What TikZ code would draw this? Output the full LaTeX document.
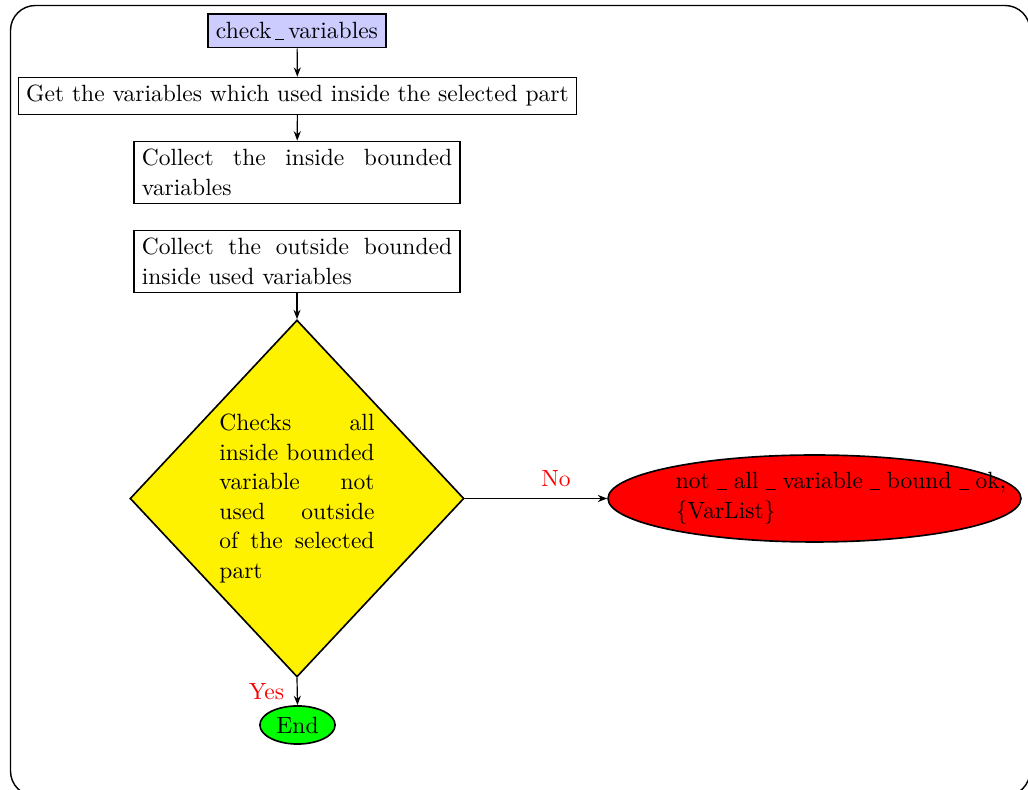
\documentclass[tikz,border=0pt]{standalone}
\usetikzlibrary{shapes.geometric,arrows.meta}
\definecolor{decyellow}{RGB}{255,242,0}
% short, spaced underscore rules
\newcommand{\usc}{\kern1.7pt\rule[-0.6pt]{3.8pt}{0.5pt}\kern1.7pt}
\newcommand{\uscwide}{\kern3pt\rule[-0.6pt]{4.2pt}{0.5pt}\kern3pt}
\begin{document}
\begin{tikzpicture}[x=0.4255pt,y=-0.4255pt,
  font=\fontsize{10}{12.6}\selectfont,
  box/.style={draw,line width=0.7pt,rectangle,inner sep=3.33pt},
  parbox/.style={box,text width=132pt,align=justify},
  startbox/.style={box,fill=blue!20},
  decision/.style={draw,line width=0.7pt,diamond,fill=decyellow,inner sep=0pt,
    text width=66pt,align=justify,minimum width=142.1pt,minimum height=151.9pt},
  failnode/.style={draw,line width=0.7pt,ellipse,fill=red,inner sep=0pt,
    text width=118pt,align=left,minimum width=175.7pt,minimum height=37pt},
  endnode/.style={draw,line width=0.7pt,ellipse,fill=green,inner sep=0pt,
    minimum width=32pt,minimum height=16.2pt},
  conn/.style={draw,line width=0.5pt,-{Stealth[length=4pt,width=3pt]}},
  lab/.style={text=red}]
  \useasboundingbox (0,0) rectangle (1028,790);
  % outer frame
  \draw[line width=0.6pt,rounded corners=10.6pt] (10.5,5.5) rectangle (1030,796);

  \node[startbox] (start) at (297,31) {check\usc variables};
  \node[box] (getvars) at (297.5,96) {Get the variables which used inside the selected part};
  \node[parbox] (inbound) at (297,172.5) {Collect the inside bounded variables};
  \node[parbox] (outbound) at (297,261.5) {Collect the outside bounded inside used variables};
  \node[decision] (check) at (297,498.5) {\hyphenpenalty=10000 Checks all inside bounded variable not used outside of the selected part};
  \node[failnode] (notok) at (814.5,498.5) {not\uscwide all\uscwide variable\uscwide bound\uscwide ok,\\\{VarList\}};
  \node[endnode] (finish) at (297.5,725) {End};

  \path[conn] (start) -- (getvars);
  \path[conn] (getvars) -- (inbound);
  \path[conn] (outbound) -- (check.north);
  \path[conn] (check.east) -- node[lab,pos=0.64,above=1.5pt] {No} (notok.west);
  \path[conn] (check.south) -- node[lab,midway,left=2pt] {Yes} (finish.north);
\end{tikzpicture}
\end{document}
